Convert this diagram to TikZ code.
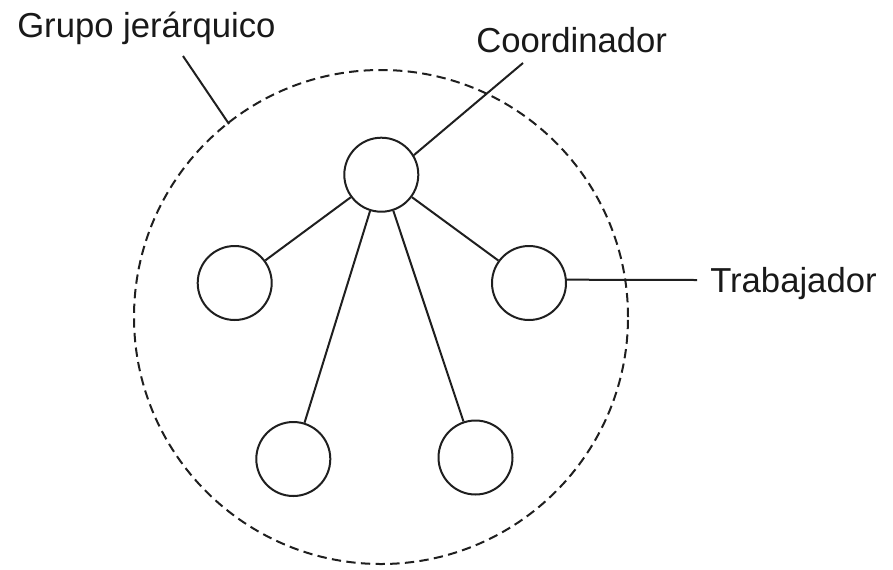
\documentclass[tikz,border=0pt]{standalone}
\usepackage{fontspec}
\setmainfont{Liberation Sans}
\begin{document}
\begin{tikzpicture}[x=0.75pt,y=-0.75pt,
  member/.style={circle,draw=black!88,line width=1.5pt,minimum size=55.5pt,inner sep=0pt},
  link/.style={draw=black!88,line width=1.5pt},
  group/.style={draw=black!88,line width=1.5pt,dash pattern=on 7pt off 4pt},
  lbl/.style={anchor=base west,inner sep=0pt,font=\fontsize{26}{30}\selectfont,text=black!90}]
\useasboundingbox (0,0) rectangle (893,569);
% group boundary
\node[group,circle,minimum size=370.5pt,inner sep=0pt] (grp) at (381,317) {};
% members
\node[member] (co) at (381.3,174.7) {};
\node[member] (lw) at (234.7,283) {};
\node[member] (rw) at (529,283) {};
\node[member] (blw) at (293.3,459) {};
\node[member] (brw) at (475.5,457.5) {};
\draw[link] (co) -- (lw);
\draw[link] (co) -- (rw);
\draw[link] (co) -- (blw);
\draw[link] (co) -- (brw);
% labels
\node[lbl] (tg) at (17,37) {Grupo jerárquico};
\node[lbl] (tc) at (476,52) {Coordinador};
\node[lbl] (tt) at (710,292) {Trabajador};
\coordinate (eg1) at (183,56);
\coordinate (eg2) at (229,124);
\coordinate (ec) at (523,63);
\coordinate (et) at (697,280);
\draw[link] (eg1) -- (eg2);
\draw[link] (ec) -- (co.31);
\draw[link] (rw.5) -- (et);
\end{tikzpicture}
\end{document}
